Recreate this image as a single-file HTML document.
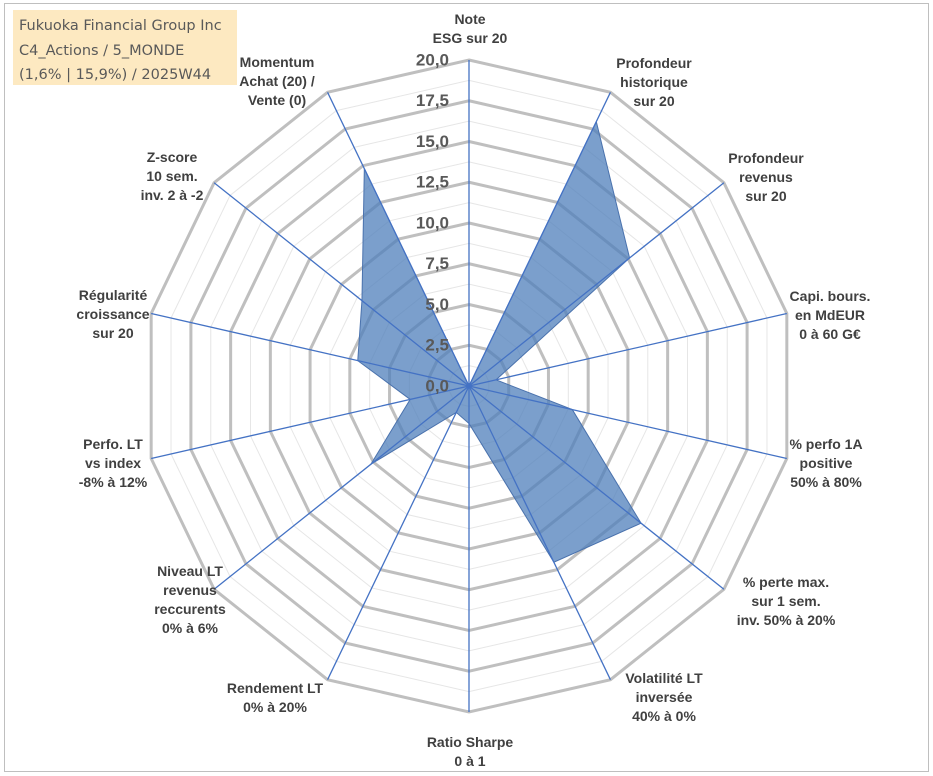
<!DOCTYPE html>
<html><head><meta charset="utf-8"><style>
body{margin:0;background:#fff;}
#wrap{position:relative;width:933px;height:776px;overflow:hidden;}
#frame{position:absolute;left:4px;top:3px;width:925px;height:769px;border:1px solid #bfbfbf;box-sizing:border-box;}
#title{position:absolute;left:13px;top:10px;width:224px;height:75px;background:#fde9c1;color:#595959;font-family:"DejaVu Sans","Liberation Sans",sans-serif;font-size:14.5px;line-height:24.5px;padding:4px 0 0 6px;box-sizing:border-box;white-space:nowrap;}
svg{position:absolute;left:0;top:0;}
</style></head><body>
<div id="wrap">
<div id="frame"></div>
<svg id="chart" width="933" height="776"></svg>
<div id="title">Fukuoka Financial Group Inc<br>C4_Actions / 5_MONDE<br>(1,6% | 15,9%) / 2025W44</div>
</div>
<script>
const categories=[["Note","ESG sur 20"],["Profondeur","historique","sur 20"],["Profondeur","revenus","sur 20"],["Capi. bours.","en MdEUR","0 à 60 G€"],["% perfo 1A","positive","50% à 80%"],["% perte max.","sur 1 sem.","inv. 50% à 20%"],["Volatilité LT","inversée","40% à 0%"],["Ratio Sharpe","0 à 1"],["Rendement LT","0% à 20%"],["Niveau LT","revenus","reccurents","0% à 6%"],["Perfo. LT","vs index","-8% à 12%"],["Régularité","croissance","sur 20"],["Z-score","10 sem.","inv. 2 à -2"],["Momentum","Achat (20) /","Vente (0)"]];
const values=[0,18,12.6,1.7,6.5,13.5,12,2.3,1.8,7.7,3.7,7,8.4,14.8];
const tickLabels=["0,0","2,5","5,0","7,5","10,0","12,5","15,0","17,5","20,0"];
const maxVal=20;
const labelPos=[[470,19],[654,63],[766,158],[830,296],[826,444],[786,582],[664,678],[470,742],[275,688],[190,571],[113,444],[113,295],[172,157],[277,62]];
const NS="http://www.w3.org/2000/svg";
const svg=document.getElementById('chart');
const cx=469,cy=386,R=326,n=categories.length;
function ang(i){return -Math.PI/2+i*2*Math.PI/n;}
function pt(i,v){const r=v/maxVal*R;return [cx+r*Math.cos(ang(i)),cy+r*Math.sin(ang(i))];}
function mk(t,a){const e=document.createElementNS(NS,t);for(const k in a)e.setAttribute(k,a[k]);svg.appendChild(e);return e;}
for(let k=1;k<16;k+=2){const v=k*1.25;const p=[];for(let i=0;i<n;i++)p.push(pt(i,v).join(','));
const g=mk('polygon',{points:p.join(' '),fill:'none',stroke:'#e6e6e6','stroke-width':1});

}
for(let k=1;k<tickLabels.length;k++){const v=k*2.5;const p=[];for(let i=0;i<n;i++)p.push(pt(i,v).join(','));
const g=mk('polygon',{points:p.join(' '),fill:'none',stroke:'#bfbfbf','stroke-width':3});

}
const sp=values.map((v,i)=>pt(i,v).join(',')).join(' ');
const s=mk('polygon',{points:sp,fill:'#4f7fbb','fill-opacity':0.75,stroke:'#4a72ad','stroke-width':1});


for(let i=0;i<n;i++){const e=pt(i,maxVal);
const l=mk('line',{x1:cx,y1:cy,x2:e[0],y2:e[1],stroke:'#4472c4','stroke-width':1.3});

}
tickLabels.forEach((t,k)=>{const y=pt(0,k*2.5)[1];
const e=mk('text',{x:449,y:y+1,'text-anchor':'end','dominant-baseline':'middle','font-family':'Liberation Sans, sans-serif','font-size':17,'font-weight':'bold',fill:'#595959'});
e.textContent=t;

});
categories.forEach((lines,i)=>{const [x,y]=labelPos[i];
const e=mk('text',{'text-anchor':'middle','font-family':'Liberation Sans, sans-serif','font-size':14,'font-weight':'bold',fill:'#404040'});


lines.forEach((ln,j)=>{const ts=document.createElementNS(NS,'tspan');ts.setAttribute('x',x);ts.setAttribute('y',y+5+j*19);ts.textContent=ln;e.appendChild(ts);});});
</script>
</body></html>
